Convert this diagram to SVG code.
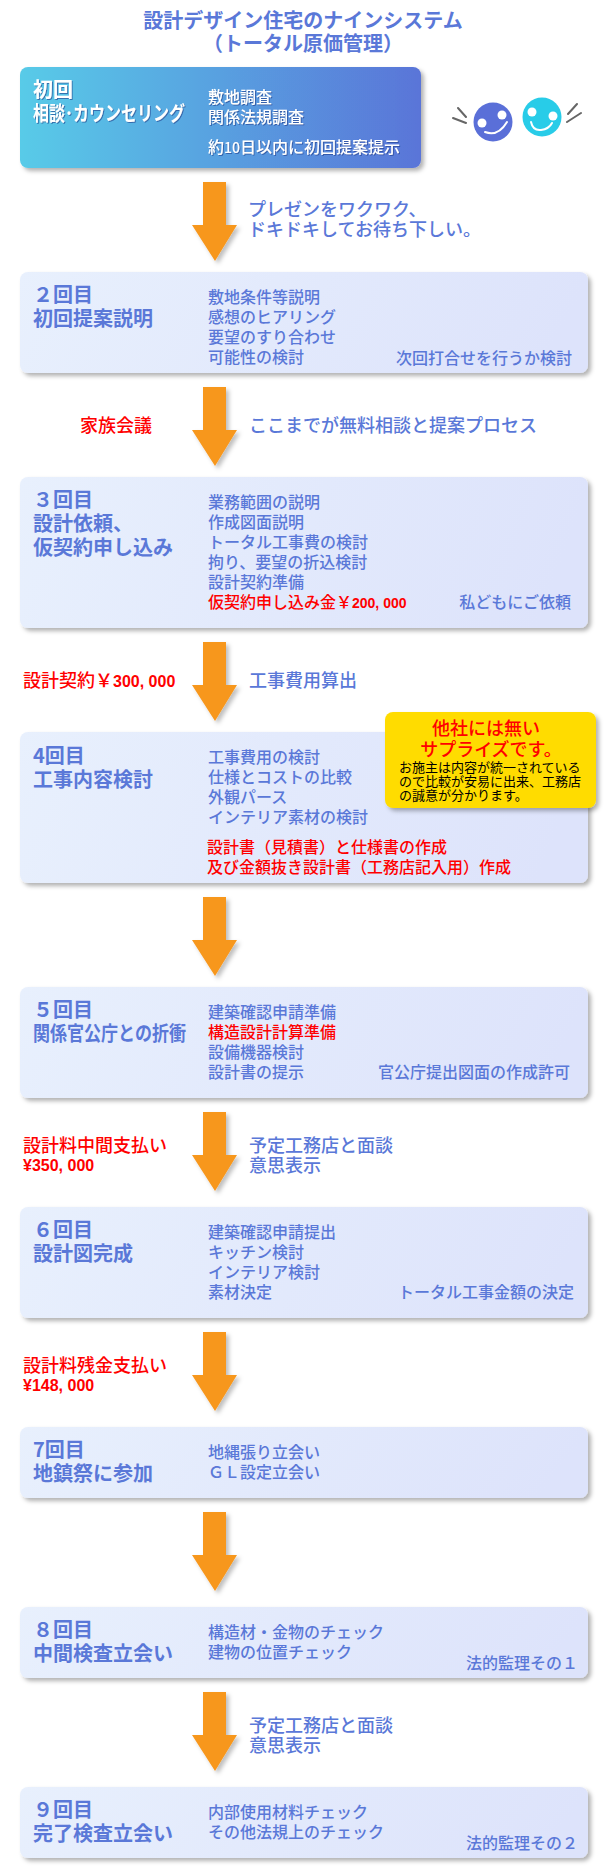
<svg xmlns="http://www.w3.org/2000/svg" width="607" height="1872" viewBox="0 0 607 1872">
<style>
text{font-family:"Noto Sans CJK JP","Noto Sans",sans-serif;font-weight:500;fill:#5a78d8}
.t{font-size:20px;font-weight:700;text-anchor:middle}
.h{font-size:20px;font-weight:700}
.b{font-size:16px}
.l{font-size:18px}
.r{fill:#f00}
.w{fill:#fff;filter:url(#ts)}
.e{text-anchor:end}
.n{font-family:"Liberation Sans",sans-serif;font-weight:700}
.k{font-size:13px;fill:#000;font-weight:400}
.box{fill:url(#pale);filter:url(#sh)}
.arr{fill:#f7971d;filter:url(#sh2)}
</style>
<defs>
<linearGradient id="pale" x1="0" y1="0" x2="1" y2="0.1"><stop offset="0" stop-color="#e8f0fd"/><stop offset="1" stop-color="#dde3fb"/></linearGradient>
<linearGradient id="deep" x1="0" y1="0" x2="1" y2="0"><stop offset="0" stop-color="#58cbe8"/><stop offset="1" stop-color="#5a75d8"/></linearGradient>
<filter id="sh" x="-5%" y="-10%" width="110%" height="125%"><feDropShadow dx="3" dy="3" stdDeviation="2" flood-color="#000" flood-opacity=".3"/></filter>
<filter id="sh2" x="-30%" y="-10%" width="170%" height="125%"><feDropShadow dx="3" dy="3" stdDeviation="2" flood-color="#000" flood-opacity=".25"/></filter>
<filter id="ts" x="-5%" y="-20%" width="110%" height="150%"><feDropShadow dx="1" dy="1" stdDeviation=".7" flood-color="#1c3a8a" flood-opacity=".6"/></filter>
<polygon id="ah" points="203,0 226,0 226,43 237,43 215,79 192,43 203,43"/>
</defs>
<rect width="607" height="1872" fill="#fff"/>
<g id="title">
<text class="t" x="303" y="28">設計デザイン住宅のナインシステム</text>
<text class="t" x="303" y="51">（トータル原価管理）</text>
</g>
<g id="connectors">
<use href="#ah" class="arr" y="182"/>
<use href="#ah" class="arr" y="387"/>
<use href="#ah" class="arr" y="642"/>
<use href="#ah" class="arr" y="897"/>
<use href="#ah" class="arr" y="1112"/>
<use href="#ah" class="arr" y="1332"/>
<use href="#ah" class="arr" y="1512"/>
<use href="#ah" class="arr" y="1692"/>
</g>
<g id="node1">
<rect x="20" y="67" width="401" height="101" rx="8" fill="url(#deep)" filter="url(#sh)"/>
<text class="h w" x="33" y="97">初回</text>
<text class="h w" x="33" y="121" textLength="152" lengthAdjust="spacingAndGlyphs">相談･カウンセリング</text>
<text class="b w" x="208" y="103">敷地調査</text>
<text class="b w" x="208" y="123">関係法規調査</text>
<text class="b w" x="208" y="153">約<tspan font-size="14">10</tspan>日以内に初回提案提示</text>
</g>
<g id="faces">
<circle cx="493" cy="122" r="19.5" fill="#5a6fd8"/>
<circle cx="482" cy="123" r="4.5" fill="#fff"/><circle cx="502" cy="115" r="4.5" fill="#fff"/>
<path d="M485 132q13 5 22-10" fill="none" stroke="#fff" stroke-width="2" stroke-linecap="round"/>
<circle cx="542" cy="117" r="19.5" fill="#28cce8"/>
<circle cx="532" cy="112" r="4.5" fill="#fff"/><circle cx="553" cy="116" r="4.5" fill="#fff"/>
<path d="M531 122q2 9 10 8t11-7" fill="none" stroke="#fff" stroke-width="2" stroke-linecap="round"/>
<path d="M458 108l8 9M453 118l13 5M577 104l-9 10M581 113l-14 9" fill="none" stroke="#666" stroke-width="2" stroke-linecap="round"/>
</g>
<g id="label-a"><text class="l" x="248" y="216">プレゼンをワクワク、</text><text class="l" x="248" y="236">ドキドキしてお待ち下しい。</text></g>
<g id="node2">
<rect class="box" x="20" y="272" width="568" height="101" rx="8"/>
<text class="h" x="33" y="302">２回目</text>
<text class="h" x="33" y="326">初回提案説明</text>
<text class="b" x="208" y="303">敷地条件等説明</text>
<text class="b" x="208" y="323">感想のヒアリング</text>
<text class="b" x="208" y="343">要望のすり合わせ</text>
<text class="b" x="208" y="363">可能性の検討</text>
<text class="b e" x="572" y="364">次回打合せを行うか検討</text>
</g>
<g id="label-b"><text class="l r" x="80" y="432">家族会議</text><text class="l" x="249" y="432">ここまでが無料相談と提案プロセス</text></g>
<g id="node3">
<rect class="box" x="20" y="477" width="568" height="151" rx="8"/>
<text class="h" x="33" y="507">３回目</text>
<text class="h" x="33" y="531">設計依頼、</text>
<text class="h" x="33" y="555">仮契約申し込み</text>
<text class="b" x="208" y="508">業務範囲の説明</text>
<text class="b" x="208" y="528">作成図面説明</text>
<text class="b" x="208" y="548">トータル工事費の検討</text>
<text class="b" x="208" y="568">拘り、要望の折込検討</text>
<text class="b" x="208" y="588">設計契約準備</text>
<text class="b r" x="208" y="608">仮契約申し込み金￥<tspan class="n r" font-size="14">200, 000</tspan></text>
<text class="b e" x="571" y="608">私どもにご依頼</text>
</g>
<g id="label-c"><text class="l r" x="23" y="687">設計契約￥<tspan class="n r" font-size="16">300, 000</tspan></text><text class="l" x="249" y="687">工事費用算出</text></g>
<g id="node4">
<rect class="box" x="20" y="732" width="568" height="151" rx="8"/>
<text class="h" x="33" y="763">4回目</text>
<text class="h" x="33" y="787">工事内容検討</text>
<text class="b" x="208" y="763">工事費用の検討</text>
<text class="b" x="208" y="783">仕様とコストの比較</text>
<text class="b" x="208" y="803">外観パース</text>
<text class="b" x="208" y="823">インテリア素材の検討</text>
<text class="b r" x="207" y="853">設計書（見積書）と仕様書の作成</text>
<text class="b r" x="207" y="873">及び金額抜き設計書（工務店記入用）作成</text>
</g>
<g id="callout">
<rect x="385" y="712" width="211" height="96" rx="8" fill="#ffdc00" filter="url(#sh)"/>
<text class="l r" x="486" y="735" text-anchor="middle" font-weight="700">他社には無い</text>
<text class="l r" x="491" y="756" text-anchor="middle" font-weight="700">サプライズです。</text>
<text class="k" x="399" y="772">お施主は内容が統一されている</text>
<text class="k" x="399" y="786">ので比較が安易に出来、工務店</text>
<text class="k" x="399" y="800">の誠意が分かります。</text>
</g>
<g id="node5">
<rect class="box" x="20" y="987" width="568" height="111" rx="8"/>
<text class="h" x="33" y="1017">５回目</text>
<text class="h" x="33" y="1041" textLength="153" lengthAdjust="spacingAndGlyphs">関係官公庁との折衝</text>
<text class="b" x="208" y="1018">建築確認申請準備</text>
<text class="b r" x="208" y="1038">構造設計計算準備</text>
<text class="b" x="208" y="1058">設備機器検討</text>
<text class="b" x="208" y="1078">設計書の提示</text>
<text class="b e" x="570" y="1078">官公庁提出図面の作成許可</text>
</g>
<g id="label-d"><text class="l r" x="23" y="1152">設計料中間支払い</text><text class="r n" font-size="16" x="23" y="1171">¥350, 000</text><text class="l" x="249" y="1152">予定工務店と面談</text><text class="l" x="249" y="1172">意思表示</text></g>
<g id="node6">
<rect class="box" x="20" y="1207" width="568" height="111" rx="8"/>
<text class="h" x="33" y="1237">６回目</text>
<text class="h" x="33" y="1261">設計図完成</text>
<text class="b" x="208" y="1238">建築確認申請提出</text>
<text class="b" x="208" y="1258">キッチン検討</text>
<text class="b" x="208" y="1278">インテリア検討</text>
<text class="b" x="208" y="1298">素材決定</text>
<text class="b e" x="574" y="1298">トータル工事金額の決定</text>
</g>
<g id="label-e"><text class="l r" x="23" y="1372">設計料残金支払い</text><text class="r n" font-size="16" x="23" y="1391">¥148, 000</text></g>
<g id="node7">
<rect class="box" x="20" y="1427" width="568" height="71" rx="8"/>
<text class="h" x="33" y="1457">7回目</text>
<text class="h" x="33" y="1481">地鎮祭に参加</text>
<text class="b" x="208" y="1458">地縄張り立会い</text>
<text class="b" x="208" y="1478">ＧＬ設定立会い</text>
</g>
<g id="node8">
<rect class="box" x="20" y="1607" width="568" height="71" rx="8"/>
<text class="h" x="33" y="1637">８回目</text>
<text class="h" x="33" y="1661">中間検査立会い</text>
<text class="b" x="208" y="1638">構造材・金物のチェック</text>
<text class="b" x="208" y="1658">建物の位置チェック</text>
<text class="b e" x="578" y="1669">法的監理その１</text>
</g>
<g id="label-f"><text class="l" x="249" y="1732">予定工務店と面談</text><text class="l" x="249" y="1752">意思表示</text></g>
<g id="node9">
<rect class="box" x="20" y="1787" width="568" height="71" rx="8"/>
<text class="h" x="33" y="1817">９回目</text>
<text class="h" x="33" y="1841">完了検査立会い</text>
<text class="b" x="208" y="1818">内部使用材料チェック</text>
<text class="b" x="208" y="1838">その他法規上のチェック</text>
<text class="b e" x="578" y="1849">法的監理その２</text>
</g>
</svg>
